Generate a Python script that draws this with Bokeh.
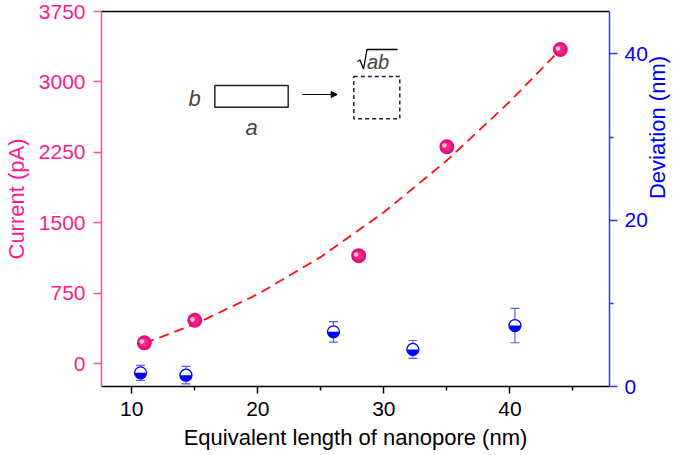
import math
from bokeh.plotting import figure
from bokeh.models import (Range1d, LinearAxis, FixedTicker, ColumnDataSource, Whisker,
                          TeeHead, Label, Arrow, NormalHead, BoxAnnotation)
from bokeh.embed import file_html
from bokeh.resources import INLINE
from bokeh.core.properties import value

# ---------------- data ----------------
length_current = [11.0, 15.0, 28.0, 35.0, 44.0]
current_pA = [222, 462, 1150, 2310, 3345]

length_dev = [10.7, 14.3, 26.0, 32.3, 40.4]
deviation_nm = [1.64, 1.36, 6.57, 4.46, 7.33]
deviation_err = [0.9, 1.05, 1.23, 1.07, 2.07]

fit_length = [11.0, 15.0, 20.0, 25.0, 30.0, 35.0, 40.0, 43.6]
fit_current = [218, 420, 740, 1137, 1612, 2164, 2792, 3290]

x_ticks = [10, 20, 30, 40]
x_minor = [15, 25, 35, 45]
left_ticks = [0, 750, 1500, 2250, 3000, 3750]
right_ticks = [0, 20, 40]
right_minor = [10, 30]

# ---------------- style / layout ----------------
FONT = "Liberation Sans"
PINK_TXT = "#FF1A8C"
PINK_AX = "#FF4DA6"
PINK_PT = "#E8107A"
BLUE = "#0000FF"
BLUE_AX = "#3333FF"
BLUE_ERR = "#5A5AFF"
FS = "21px"
FSL = "22px"

W, H = 685, 455
B_LEFT, B_RIGHT, B_TOP, B_BOTTOM = 101, 76, 11, 69
X0, X1 = 7.6, 47.9
YL0, YL1 = -243, 3750
YR0, YR1 = 0, 45.1

p = figure(width=W, height=H, x_range=Range1d(X0, X1), y_range=Range1d(YL0, YL1),
           output_backend="svg", toolbar_location=None,
           min_border_left=B_LEFT, min_border_right=B_RIGHT,
           min_border_top=B_TOP, min_border_bottom=B_BOTTOM)
p.extra_y_ranges = {"right": Range1d(YR0, YR1)}
p.xgrid.visible = False
p.ygrid.visible = False
p.outline_line_color = None
p.background_fill_color = "white"

FRAME_W = W - B_LEFT - B_RIGHT
FRAME_H = H - B_TOP - B_BOTTOM


def px(xp, yp):
    """page pixel position of the inset sketch -> data coordinates"""
    return (X0 + (xp - B_LEFT) * (X1 - X0) / FRAME_W,
            YL1 - (yp - B_TOP) * (YL1 - YL0) / FRAME_H)


# x axis
xa = p.xaxis[0]
xa.ticker = FixedTicker(ticks=x_ticks, minor_ticks=x_minor)
xa.axis_label = "Equivalent length of nanopore (nm)"
xa.axis_label_text_font = FONT
xa.axis_label_text_font_size = FSL
xa.axis_label_text_font_style = "normal"
xa.axis_label_text_color = "black"
xa.major_label_text_font = FONT
xa.major_label_text_font_size = FS
xa.major_label_text_color = "black"
xa.axis_line_color = "black"
xa.axis_line_width = 1.5
xa.major_tick_line_color = "black"
xa.major_tick_line_width = 1.5
xa.minor_tick_line_color = "black"
xa.minor_tick_line_width = 1.5
xa.major_tick_in = 0
xa.major_tick_out = 7
xa.minor_tick_in = 0
xa.minor_tick_out = 4
xa.major_label_standoff = 8
xa.axis_label_standoff = 6

# left axis
ya = p.yaxis[0]
ya.ticker = FixedTicker(ticks=left_ticks, minor_ticks=[])
ya.axis_label = "Current (pA)"
ya.axis_label_text_font = FONT
ya.axis_label_text_font_size = FSL
ya.axis_label_text_font_style = "normal"
ya.axis_label_text_color = PINK_TXT
ya.major_label_text_font = FONT
ya.major_label_text_font_size = FS
ya.major_label_text_color = PINK_TXT
ya.axis_line_color = PINK_AX
ya.axis_line_width = 1.5
ya.major_tick_line_color = PINK_AX
ya.major_tick_line_width = 1.5
ya.major_tick_in = 0
ya.major_tick_out = 8
ya.minor_tick_line_color = None
ya.major_label_standoff = 8
ya.axis_label_standoff = 7

# right axis
ra = LinearAxis(y_range_name="right", ticker=FixedTicker(ticks=right_ticks, minor_ticks=right_minor))
ra.axis_label = "Deviation (nm)"
ra.axis_label_orientation = math.pi / 2
ra.axis_label_text_font = FONT
ra.axis_label_text_font_size = FSL
ra.axis_label_text_font_style = "normal"
ra.axis_label_text_color = BLUE
ra.major_label_text_font = FONT
ra.major_label_text_font_size = FS
ra.major_label_text_color = BLUE
ra.axis_line_color = BLUE_AX
ra.axis_line_width = 1.5
ra.major_tick_line_color = BLUE_AX
ra.major_tick_line_width = 1.5
ra.minor_tick_line_color = BLUE_AX
ra.minor_tick_line_width = 1.5
ra.major_tick_in = 0
ra.major_tick_out = 8
ra.minor_tick_in = 0
ra.minor_tick_out = 4
ra.major_label_standoff = 7
ra.axis_label_standoff = 7
p.add_layout(ra, "right")

# top border line
ta = LinearAxis(ticker=FixedTicker(ticks=[], minor_ticks=[]))
ta.axis_line_color = "black"
ta.axis_line_width = 1.5
ta.major_tick_line_color = None
ta.minor_tick_line_color = None
ta.major_label_standoff = 0
ta.major_label_text_font_size = "0px"
p.add_layout(ta, "above")

# fitted dashed curve
p.line(fit_length, fit_current, line_color="#FF1010", line_width=1.8, line_dash="10 6")

# current points (pink spheres)
p.scatter(length_current, current_pA, size=15, fill_color=PINK_PT, line_color=None)
p.scatter(length_current, current_pA, size=9, fill_color="#F2388F", line_color=None, fill_alpha=0.6)
p.text(length_current, current_pA, text=["●"] * len(length_current), x_offset=-2.5, y_offset=-2,
       text_color="white", text_alpha=0.7, text_font_size="6px", text_align="center",
       text_baseline="middle", text_font=value("DejaVu Sans"))

# deviation points with error bars
src = ColumnDataSource(dict(x=length_dev, y=deviation_nm,
                            lo=[v - e for v, e in zip(deviation_nm, deviation_err)],
                            hi=[v + e for v, e in zip(deviation_nm, deviation_err)]))
wk = Whisker(source=src, base="x", lower="lo", upper="hi", y_range_name="right",
             line_color=BLUE_ERR, line_width=1.2,
             upper_head=TeeHead(size=9, line_color=BLUE_ERR, line_width=1.2),
             lower_head=TeeHead(size=9, line_color=BLUE_ERR, line_width=1.2))
p.add_layout(wk)
p.scatter("x", "y", source=src, y_range_name="right", size=12, fill_color="white", line_color=None)
p.wedge("x", "y", source=src, y_range_name="right", radius=6, radius_units="screen",
        start_angle=math.pi, end_angle=2 * math.pi, fill_color=BLUE, line_color=None)
p.scatter("x", "y", source=src, y_range_name="right", size=12, fill_color=None,
          line_color=BLUE, line_width=1.3)

# ---------------- inset schematic (page pixel positions) ----------------
rl, rt = px(214.3, 85.0)
rr, rb = px(287.7, 106.7)
p.add_layout(BoxAnnotation(left=rl, right=rr, top=rt, bottom=rb, fill_alpha=0, line_alpha=1,
                           line_color="#222222", line_width=1.5))
sl, st = px(353.3, 76.0)
sr, sb = px(399.3, 118.3)
p.add_layout(BoxAnnotation(left=sl, right=sr, top=st, bottom=sb, fill_alpha=0, line_alpha=1,
                           line_color="#222222", line_width=1.5, line_dash="4 3"))
bx, by = px(194, 98.3)
p.add_layout(Label(x=bx, y=by, text="b", text_font=FONT, text_font_size=FSL,
                   text_font_style="italic", text_align="center", text_baseline="middle"))
ax_, ay_ = px(251, 127)
p.add_layout(Label(x=ax_, y=ay_, text="a", text_font=FONT, text_font_size=FSL,
                   text_font_style="italic", text_align="center", text_baseline="middle"))
a0x, a0y = px(301.7, 94)
a1x, a1y = px(336.7, 94)
p.add_layout(Arrow(x_start=a0x, x_end=a1x, y_start=a0y, y_end=a1y, line_width=1.2, line_color="black",
                   end=NormalHead(size=6, fill_color="black", line_color="black")))
# square root sign with overline, then "ab"
rad = [px(357, 61), px(359.5, 59.5), px(363, 68.5), px(366.5, 49), px(397, 49)]
p.line([q[0] for q in rad], [q[1] for q in rad], line_color="black", line_width=1.3)
tx, ty = px(366.5, 61.5)
p.add_layout(Label(x=tx, y=ty, text="ab", text_font=FONT, text_font_size="20px",
                   text_font_style="italic", text_align="left", text_baseline="middle"))

open("out.html", "w").write(file_html(p, INLINE))
